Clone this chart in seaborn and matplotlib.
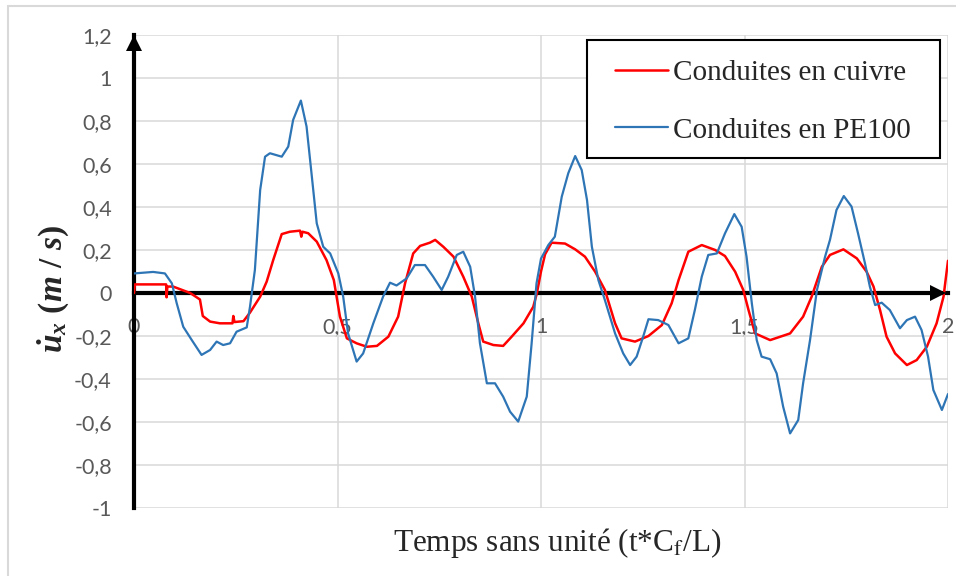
import pandas as pd
import seaborn as sns
import matplotlib.pyplot as plt
from matplotlib.patches import Rectangle

t_cuivre = [0, 0.002, 0.079, 0.080, 0.082, 0.096, 0.138, 0.162, 0.169, 0.187, 0.211, 0.242, 0.244,
            0.247, 0.269, 0.285, 0.31, 0.326, 0.342, 0.363, 0.383, 0.408, 0.411, 0.414, 0.428, 0.449,
            0.473, 0.491, 0.506, 0.523, 0.547, 0.572, 0.597, 0.625, 0.649, 0.666, 0.686, 0.703, 0.727,
            0.74, 0.76, 0.785, 0.809, 0.83, 0.846, 0.858, 0.883, 0.907, 0.928, 0.957, 0.981, 0.99, 1.0,
            1.01, 1.026, 1.059, 1.084, 1.108, 1.133, 1.157, 1.182, 1.198, 1.231, 1.264, 1.297, 1.321,
            1.338, 1.362, 1.395, 1.428, 1.452, 1.477, 1.497, 1.51, 1.526, 1.563, 1.612, 1.644, 1.665,
            1.69, 1.71, 1.743, 1.776, 1.8, 1.817, 1.833, 1.849, 1.87, 1.899, 1.923, 1.948, 1.972,
            1.989, 2.0]
u_cuivre = [0.0, 0.04, 0.04, -0.02, 0.03, 0.03, 0.0, -0.03, -0.107, -0.133, -0.141, -0.141, -0.107,
            -0.135, -0.131, -0.091, -0.017, 0.053, 0.153, 0.274, 0.285, 0.29, 0.262, 0.285, 0.278, 0.239,
            0.153, 0.06, -0.11, -0.211, -0.234, -0.25, -0.246, -0.203, -0.11, 0.045, 0.184, 0.219, 0.234,
            0.247, 0.215, 0.169, 0.076, -0.017, -0.141, -0.226, -0.242, -0.246, -0.203, -0.141, -0.064,
            0.0, 0.1, 0.18, 0.234, 0.23, 0.203, 0.169, 0.099, 0.014, -0.141, -0.211, -0.226, -0.2,
            -0.149, -0.048, 0.06, 0.192, 0.223, 0.2, 0.172, 0.099, 0.014, -0.08, -0.188, -0.219, -0.188,
            -0.11, -0.017, 0.122, 0.177, 0.203, 0.161, 0.099, 0.03, -0.079, -0.203, -0.281, -0.335,
            -0.312, -0.25, -0.141, -0.017, 0.15]

# vitesse des conduites en PE100 (courbe bleue)
t_pe100 = [0, 0.047, 0.076, 0.093, 0.105, 0.121, 0.142, 0.166, 0.187, 0.203, 0.219, 0.236, 0.252,
           0.277, 0.285, 0.297, 0.31, 0.322, 0.334, 0.363, 0.379, 0.391, 0.41, 0.424, 0.437, 0.449,
           0.465, 0.482, 0.502, 0.514, 0.526, 0.547, 0.563, 0.588, 0.612, 0.629, 0.645, 0.67, 0.69,
           0.715, 0.735, 0.756, 0.772, 0.793, 0.809, 0.826, 0.838, 0.85, 0.867, 0.887, 0.907, 0.924,
           0.944, 0.965, 0.977, 0.989, 1.0, 1.018, 1.034, 1.051, 1.067, 1.084, 1.1, 1.113, 1.125,
           1.141, 1.157, 1.182, 1.202, 1.219, 1.235, 1.251, 1.264, 1.288, 1.313, 1.338, 1.362, 1.378,
           1.395, 1.411, 1.432, 1.452, 1.475, 1.493, 1.505, 1.518, 1.53, 1.542, 1.563, 1.579, 1.595,
           1.612, 1.632, 1.644, 1.661, 1.678, 1.698, 1.71, 1.726, 1.744, 1.763, 1.779, 1.796, 1.808,
           1.821, 1.837, 1.857, 1.882, 1.899, 1.919, 1.935, 1.951, 1.964, 1.985, 2.0]
u_pe100 = [0.091, 0.098, 0.091, 0.045, -0.048, -0.157, -0.219, -0.288, -0.265, -0.226, -0.242, -0.234,
           -0.18, -0.16, -0.064, 0.107, 0.479, 0.634, 0.65, 0.634, 0.681, 0.805, 0.895, 0.774, 0.541,
           0.324, 0.215, 0.184, 0.091, -0.017, -0.188, -0.319, -0.281, -0.141, -0.017, 0.048, 0.035,
           0.068, 0.13, 0.13, 0.076, 0.014, 0.076, 0.177, 0.192, 0.122, -0.017, -0.234, -0.42, -0.42,
           -0.482, -0.552, -0.598, -0.482, -0.234, 0.045, 0.16, 0.223, 0.262, 0.448, 0.557, 0.637,
           0.572, 0.433, 0.215, 0.06, -0.033, -0.188, -0.281, -0.335, -0.296, -0.203, -0.122, -0.126,
           -0.149, -0.234, -0.211, -0.079, 0.076, 0.177, 0.184, 0.277, 0.367, 0.308, 0.169, -0.048,
           -0.219, -0.296, -0.308, -0.374, -0.529, -0.653, -0.591, -0.42, -0.219, 0.014, 0.169, 0.247,
           0.386, 0.451, 0.402, 0.277, 0.138, 0.03, -0.056, -0.045, -0.079, -0.164, -0.126, -0.11,
           -0.172, -0.296, -0.451, -0.544, -0.47]

series_names = ['Conduites en cuivre', 'Conduites en PE100']
series_colors = ['#ff0000', '#2e75b6']

y_ticks = [-1, -0.8, -0.6, -0.4, -0.2, 0, 0.2, 0.4, 0.6, 0.8, 1, 1.2]
y_tick_labels = ['-1', '-0,8', '-0,6', '-0,4', '-0,2', '0', '0,2', '0,4', '0,6', '0,8', '1', '1,2']
x_ticks = [0, 0.5, 1, 1.5, 2]
x_tick_labels = ['0', '0,5', '1', '1,5', '2']

sns.set_style('white')
plt.rcParams['font.family'] = ['Lato', 'DejaVu Sans']
plt.rcParams['mathtext.fontset'] = 'custom'
plt.rcParams['mathtext.it'] = 'Liberation Serif:italic:bold'
plt.rcParams['mathtext.rm'] = 'Liberation Serif:bold'
plt.rcParams['mathtext.bf'] = 'Liberation Serif:bold'

fig = plt.figure(figsize=(9.56, 5.76), dpi=100)
ax = fig.add_axes([134 / 956, 1 - 508 / 576, 814 / 956, 473 / 576])

sns.lineplot(x=t_cuivre, y=u_cuivre, color=series_colors[0], lw=1.8, label=series_names[0],
             estimator=None, sort=False, ax=ax, zorder=3)
sns.lineplot(x=t_pe100, y=u_pe100, color=series_colors[1], lw=1.6, label=series_names[1],
             estimator=None, sort=False, ax=ax, zorder=3)

ax.set_xlim(0, 2)
ax.set_ylim(-1, 1.2)
ax.set_xticks(x_ticks)
ax.set_xticklabels(x_tick_labels)
ax.set_yticks(y_ticks)
ax.set_yticklabels(y_tick_labels)
ax.grid(True, color='#d9d9d9', lw=1.1)
ax.set_axisbelow(True)
ax.tick_params(axis='both', length=0, labelsize=15.5, labelcolor='#595959')
ax.tick_params(axis='x', pad=17)
ax.tick_params(axis='y', pad=16)

# axes noirs avec flèches, l'axe horizontal passe par zéro
for side in ['top', 'right']:
    ax.spines[side].set_visible(False)
ax.spines['bottom'].set_position(('data', 0))
for side in ['bottom', 'left']:
    ax.spines[side].set_color('black')
    ax.spines[side].set_linewidth(3)
    ax.spines[side].set_zorder(2.5)
ax.plot([0], [1.163], marker='^', ms=11, color='black', mew=0, clip_on=False, zorder=4)
ax.plot([1.975], [0], marker='>', ms=11, color='black', mew=0, clip_on=False, zorder=4)

ax.set_xlabel(r'Temps sans unité (t*C$_\mathrm{f}$/L)', fontfamily='Liberation Serif', fontsize=22.5,
              math_fontfamily='stix', va='center')
ax.xaxis.set_label_coords(0.52, -0.074)
ax.set_ylabel(r'$\dot{u}_x\ (m\ /\ s)$', fontsize=24, va='center')
ax.yaxis.set_label_coords(-0.0995, 0.463)

# cadre de légende dessiné à part (marges horizontales plus larges que verticales)
ax.add_patch(Rectangle((0.5565, 0.740), 0.4335, 0.249, transform=ax.transAxes, facecolor='white',
                       edgecolor='black', lw=1.5, zorder=5))
leg = ax.legend(loc='upper left', bbox_to_anchor=(0.591, 0.948),
                prop={'family': 'Liberation Serif', 'size': 21}, frameon=False,
                borderpad=0, handlelength=1.8, handletextpad=0.2, labelspacing=1.07, borderaxespad=0)
leg.set_zorder(6)

fig.patches.append(Rectangle((8 / 956, -0.01), 1, 1.01 - 5.7 / 576, transform=fig.transFigure,
                             fill=False, edgecolor='#d9d9d9', lw=1.5))

fig.savefig('out.png', dpi=100)
